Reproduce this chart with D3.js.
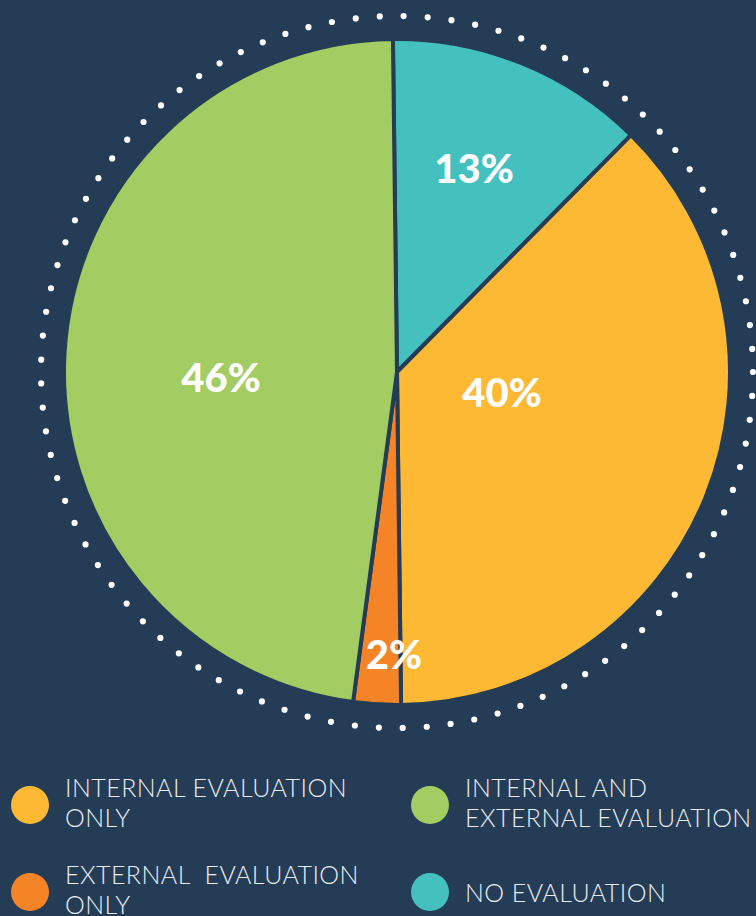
<!DOCTYPE html>
<html>
<head>
<meta charset="utf-8">
<script src="https://cdn.jsdelivr.net/npm/d3@7"></script>
<style>
  html, body { margin: 0; padding: 0; background: #243c56; }
  svg { display: block; }
</style>
</head>
<body>
<svg id="chart" width="756" height="916"></svg>
<script>
// ---- data ----
const categories = ["NO EVALUATION", "INTERNAL EVALUATION ONLY", "EXTERNAL EVALUATION ONLY", "INTERNAL AND EXTERNAL EVALUATION"];
const shares = [12.6, 37.4, 2.3, 47.7];          // slice sizes as drawn
const pctLabels = ["13%", "40%", "2%", "46%"];    // printed labels
const colors = ["#44c1bf", "#fdb933", "#f58426", "#a3cd62"];
const legendLines = [
  ["INTERNAL EVALUATION", "ONLY"],
  ["INTERNAL AND", "EXTERNAL EVALUATION"],
  ["EXTERNAL  EVALUATION", "ONLY"],
  ["NO EVALUATION"]
];
const legendOrder = [1, 3, 2, 0]; // index into categories for legend cells

// ---- layout ----
const W = 756, H = 916;
const cx = 397, cy = 372, R = 333, dotR = 356;
const bg = "#243c56";
const labelOffsets = [[77, -204], [105, 20], [-3, 282], [-176, 5]];

const svg = d3.select("#chart");
svg.append("rect").attr("width", W).attr("height", H).attr("fill", bg);

const g = svg.append("g").attr("transform", `translate(${cx},${cy})`);

// dotted ring
const circ = 2 * Math.PI * dotR;
const nDots = 93;
g.append("circle")
  .attr("r", dotR)
  .attr("fill", "none")
  .attr("stroke", "#ffffff")
  .attr("stroke-width", 6.2)
  .attr("stroke-linecap", "round")
  .attr("stroke-dasharray", `0 ${circ / nDots}`);

const start = -0.7 * Math.PI / 180;
const pie = d3.pie().sort(null).startAngle(start).endAngle(start + 2 * Math.PI);
const arcs = pie(shares);
const arc = d3.arc().innerRadius(0).outerRadius(R);

g.selectAll("path.slice")
  .data(arcs)
  .join("path")
  .attr("class", "slice")
  .attr("d", arc)
  .attr("fill", (d, i) => colors[i])
  .attr("stroke", bg)
  .attr("stroke-width", 4)
  .attr("stroke-linejoin", "miter");

g.selectAll("text.pct")
  .data(arcs)
  .join("text")
  .attr("class", "pct")
  .attr("x", (d, i) => labelOffsets[i][0])
  .attr("y", (d, i) => labelOffsets[i][1])
  .attr("text-anchor", "middle")
  .attr("dominant-baseline", "central")
  .attr("fill", "#ffffff")
  .attr("font-family", "Lato, 'Open Sans', sans-serif")
  .attr("font-weight", 900)
  .attr("font-size", 40)
  .text((d, i) => pctLabels[i]);

// legend
const legCells = [
  { x: 30, y: 805 }, { x: 430, y: 805 }, { x: 30, y: 892 }, { x: 430, y: 892 }
];
const leg = svg.append("g");
legendOrder.forEach((ci, k) => {
  const c = legCells[k];
  leg.append("circle").attr("cx", c.x).attr("cy", c.y).attr("r", 19).attr("fill", colors[ci]);
  const lines = legendLines[k];
  const t = leg.append("text")
    .attr("fill", "#e9edf1")
    .attr("font-family", "Lato, 'Open Sans', sans-serif")
    .attr("font-weight", 300)
    .attr("font-size", 25)
    .attr("letter-spacing", 0.45)
    .attr("xml:space", "preserve")
    .style("white-space", "pre");
  const baseY = lines.length === 1 ? c.y + 10 : c.y - 8;
  lines.forEach((ln, j) => {
    t.append("tspan").attr("x", c.x + 35).attr("y", baseY + j * 30).text(ln);
  });
});
</script>
</body>
</html>
